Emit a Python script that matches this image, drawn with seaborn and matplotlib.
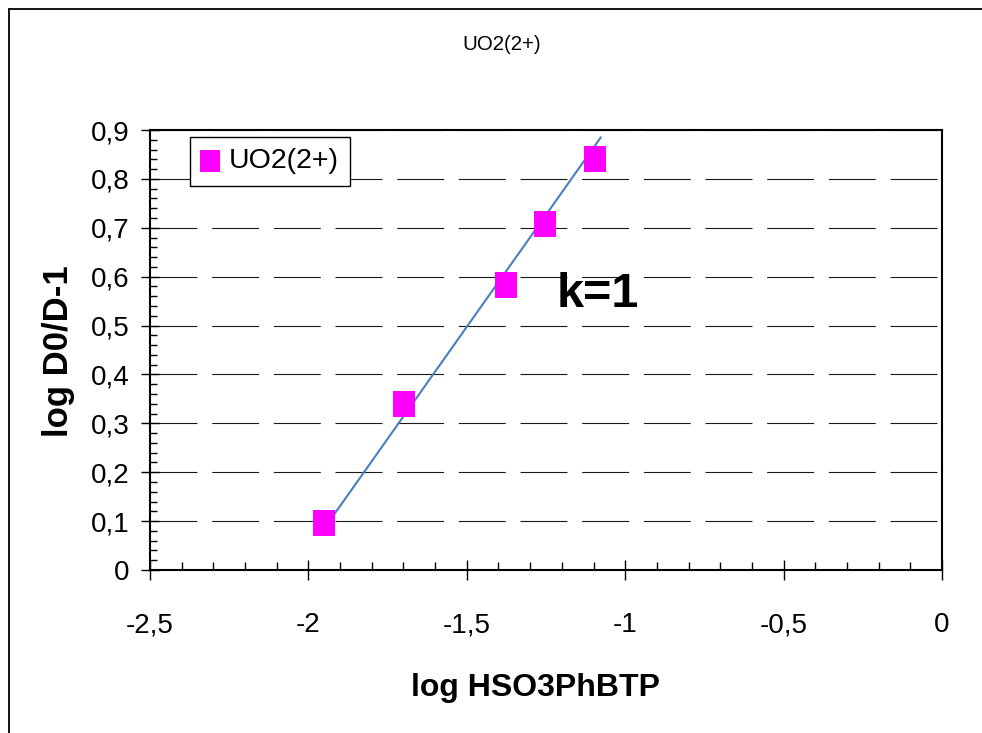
import matplotlib
matplotlib.use("Agg")
import matplotlib.pyplot as plt
import seaborn as sns
import pandas as pd
from matplotlib.ticker import MultipleLocator, FuncFormatter
from matplotlib.lines import Line2D

# values
log_ligand = [-1.952, -1.697, -1.376, -1.252, -1.094]
log_d_ratio = [0.097, 0.339, 0.582, 0.707, 0.840]
series_name = "UO2(2+)"

# trend line end points as drawn in the original
trend_x = [-1.961, -1.077]
trend_y = [0.075, 0.885]

x_label = "log HSO3PhBTP"
y_label = "log D0/D-1"
slope_note = "k=1"

points = pd.DataFrame({"x": log_ligand, "y": log_d_ratio})
trend = pd.DataFrame({"x": trend_x, "y": trend_y})

sns.set_style("white")
plt.rcParams["font.family"] = ["Liberation Sans", "DejaVu Sans"]
plt.rcParams["text.color"] = "black"
plt.rcParams["axes.labelcolor"] = "black"
plt.rcParams["xtick.color"] = "black"
plt.rcParams["ytick.color"] = "black"

fig = plt.figure(figsize=(9.82, 7.33), dpi=100)
ax = fig.add_axes([150 / 982, 1 - 570 / 733, 792 / 982, 440 / 733])

# slightly tall square marker, like the excel one
rect = [(-0.85, -1), (0.85, -1), (0.85, 1), (-0.85, 1), (-0.85, -1)]

sns.lineplot(data=trend, x="x", y="y", ax=ax, color="#4A7EBB", linewidth=1.5,
             legend=False, zorder=3)
sns.scatterplot(data=points, x="x", y="y", ax=ax, marker=rect, s=370,
                color="#FF00FF", linewidth=0, label=series_name, zorder=4)

ax.set_xlim(-2.5, 0)
ax.set_ylim(0, 0.9)

def comma_fmt(v, pos):
    if abs(v) < 1e-9:
        v = 0.0
    return "{:g}".format(round(v, 3)).replace(".", ",")

ax.xaxis.set_major_locator(MultipleLocator(0.5))
ax.xaxis.set_minor_locator(MultipleLocator(0.1))
ax.yaxis.set_major_locator(MultipleLocator(0.1))
ax.yaxis.set_minor_locator(MultipleLocator(0.02))
ax.xaxis.set_major_formatter(FuncFormatter(comma_fmt))
ax.yaxis.set_major_formatter(FuncFormatter(comma_fmt))

ax.tick_params(axis="x", which="major", direction="inout", length=15, width=1,
               labelsize=20, pad=23, bottom=True)
ax.tick_params(axis="x", which="minor", direction="in", length=5.5, width=1,
               bottom=True)
ax.tick_params(axis="y", which="major", direction="inout", length=13, width=1,
               labelsize=20, pad=8.5, left=True)
ax.tick_params(axis="y", which="minor", direction="in", length=5, width=1,
               left=True)

lw = 0.8
ax.yaxis.grid(True, which="major", color="#1a1a1a", linewidth=lw,
              linestyle=(0, (33.8 / lw, 10.6 / lw)))
ax.xaxis.grid(False)
ax.set_axisbelow(True)

for side in ["left", "bottom", "top", "right"]:
    ax.spines[side].set_visible(True)
    ax.spines[side].set_color("black")
    ax.spines[side].set_linewidth(1.5)

ax.set_xlabel(x_label, fontsize=23, fontweight="bold")
ax.set_ylabel(y_label, fontsize=25, fontweight="bold")
ax.xaxis.label.set_va("center")
ax.yaxis.label.set_va("center")
ax.xaxis.set_label_coords(0.487, -0.268)
ax.yaxis.set_label_coords(-0.115, 0.497)

ax.text(-1.218, 0.538, slope_note, fontsize=35, fontweight="bold", va="baseline")

leg = ax.legend(loc="upper left", bbox_to_anchor=(0.0505, 0.984), fontsize=20.5,
                frameon=True, fancybox=False, framealpha=1, edgecolor="black",
                borderpad=0.4, handlelength=0.6, handletextpad=0.35,
                borderaxespad=0, markerscale=0.85)
leg.get_frame().set_linewidth(1.0)

fig.text(502 / 982, 1 - 44 / 733, series_name, fontsize=14.7, ha="center", va="center")

# outer chart frame, only left and top edges show in the picture
fig.add_artist(Line2D([9 / 982, 9 / 982], [0, 1 - 9 / 733],
                      transform=fig.transFigure, color="black", linewidth=1.3))
fig.add_artist(Line2D([9 / 982, 1], [1 - 9 / 733, 1 - 9 / 733],
                      transform=fig.transFigure, color="black", linewidth=1.3))

fig.savefig("out.png", dpi=100)
